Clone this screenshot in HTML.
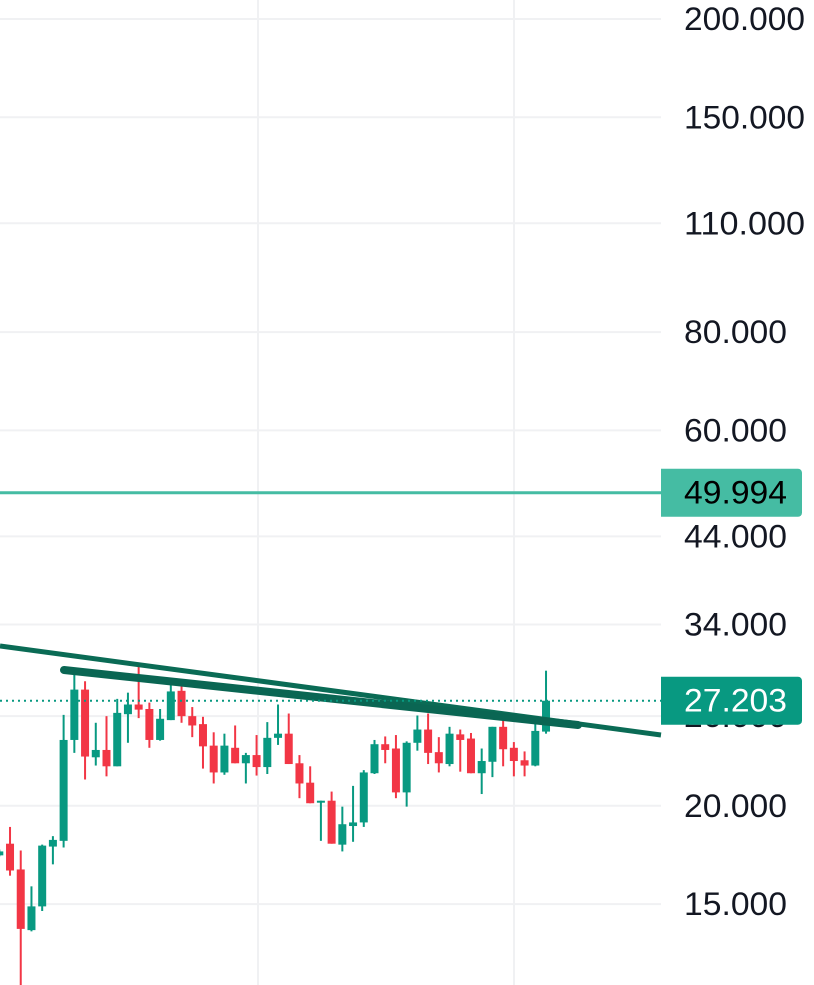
<!DOCTYPE html>
<html><head><meta charset="utf-8"><style>
body{margin:0;background:#fff;}
svg{display:block;font-family:"Liberation Sans",sans-serif;}
</style></head><body>
<svg id="chart" width="814" height="985" viewBox="0 0 814 985" xmlns="http://www.w3.org/2000/svg">
<g id="grid"></g>
<g id="candles"></g>
<g id="overlay"></g>
<g id="axis"></g>
</svg>
<script>
const opens=[17.3,17.9,16.6,13.9,14.9,17.75,18.05,24.25,28.1,23.05,23.55,22.45,26.15,26.9,26.55,24.25,25.7,28.0,26.0,25.4,23.85,22.05,23.7,22.65,23.2,22.4,24.4,24.7,22.65,21.4,20.2,20.3,17.85,18.85,19.05,22.0,23.95,23.65,20.8,24.05,25.0,23.4,22.6,24.65,24.35,22.0,22.75,25.2,23.7,22.85,22.5,24.85];
const highs=[17.6,18.8,17.55,15.8,17.85,18.3,26.1,29.8,28.8,25.5,26.0,27.35,27.85,30.05,27.05,26.55,28.65,28.5,26.7,25.95,24.8,24.7,25.3,23.35,24.6,25.55,26.9,26.2,23.2,22.45,20.3,20.85,19.95,21.2,22.2,24.25,24.5,24.6,24.15,26.05,26.2,24.45,25.2,25.0,24.75,23.65,25.2,25.9,24.1,23.45,25.7,29.7];
const lows=[17.25,16.3,11.8,13.85,14.7,16.85,17.7,23.35,21.6,22.5,21.8,22.45,24.05,25.85,23.7,24.2,25.7,25.5,24.45,22.3,21.35,21.9,22.65,21.35,21.85,21.95,23.9,22.6,20.45,20.15,18.05,17.9,17.5,18.0,18.8,21.95,22.65,20.45,19.95,23.5,22.6,22.05,22.45,22.1,22.0,20.7,21.75,22.45,21.8,21.8,22.45,24.7];
const closes=[17.5,16.55,13.95,14.9,17.8,18.1,24.25,28.1,23.1,23.55,22.45,26.25,26.9,26.5,24.25,25.8,27.95,26.0,25.3,23.8,22.05,23.85,22.65,23.2,22.4,24.4,24.7,22.6,21.35,20.15,20.3,17.9,18.95,19.05,22.05,23.95,23.55,20.8,24.05,25.0,23.35,22.65,24.7,24.25,22.0,22.8,25.2,23.6,22.8,22.5,24.9,27.2];
const tickValues=[200,150,110,80,60,44,34,26,20,15];
const tickLabels=["200.000","150.000","110.000","80.000","60.000","44.000","34.000","26.000","20.000","15.000"];
const lastPrice=27.203;
const alertPrice=49.994;

const NS="http://www.w3.org/2000/svg";
const plotRight=661;
function y(v){return 19+341.7*Math.log(200/v);}
function x(i){return -0.7+i*10.72;}
function mk(tag,attrs,parent){const e=document.createElementNS(NS,tag);for(const k in attrs)e.setAttribute(k,attrs[k]);parent.appendChild(e);return e;}
const grid=document.getElementById('grid'),cg=document.getElementById('candles'),ov=document.getElementById('overlay'),ax=document.getElementById('axis');
function txt(parent,str,yy,fill){const t=mk('text',{x:684,y:yy+11,'font-size':32,fill:fill,textLength:(str.length===7?121:103),lengthAdjust:'spacingAndGlyphs'},parent);t.textContent=str;return t;}

[258,514].forEach(gx=>{const l=mk('line',{x1:gx,x2:gx,y1:0,y2:985,stroke:'#f0f1f3','stroke-width':2},grid);

});
tickValues.forEach((v,i)=>{const yy=y(v);
const l=mk('line',{x1:0,x2:plotRight,y1:yy,y2:yy,stroke:'#f0f1f3','stroke-width':2},grid);


const t=txt(ax,tickLabels[i],yy,'#131722');

});

opens.forEach((o,i)=>{const c=closes[i],up=c>=o,col=up?'#089981':'#f23645',cx=x(i);
const g=mk('g',{},cg);


mk('line',{x1:cx,x2:cx,y1:y(highs[i]),y2:y(lows[i]),stroke:col,'stroke-width':2},g);
const top=y(Math.max(o,c)),bot=y(Math.min(o,c));
mk('rect',{x:cx-4,y:top,width:8,height:Math.max(2,bot-top),fill:col},g);});

let tl=mk('line',{x1:0,y1:646,x2:661,y2:735,stroke:'#0a6b55','stroke-width':5},ov);


tl=mk('line',{x1:64,y1:670,x2:578,y2:725,stroke:'#0a6653','stroke-width':8,'stroke-linecap':'round'},ov);



const ya=y(alertPrice);
let hl=mk('line',{x1:0,x2:plotRight,y1:ya,y2:ya,stroke:'#45bca3','stroke-width':3},ov);


const yl=y(lastPrice);
let dl=mk('line',{x1:0,x2:plotRight,y1:yl,y2:yl,stroke:'#089981','stroke-width':2,'stroke-dasharray':'2 4'},ov);



function label(v,bg,fg,name){const yy=y(v);
const g=mk('g',{},ax);


mk('path',{d:`M661 ${yy-24} H798 a4 4 0 0 1 4 4 V${yy+20} a4 4 0 0 1 -4 4 H661 Z`,fill:bg},g);
txt(g,v.toFixed(3),yy,fg);}
label(alertPrice,'#45bca3','#000','alert-price-label');
label(lastPrice,'#089981','#fff','last-price-label');
</script>
</body></html>
